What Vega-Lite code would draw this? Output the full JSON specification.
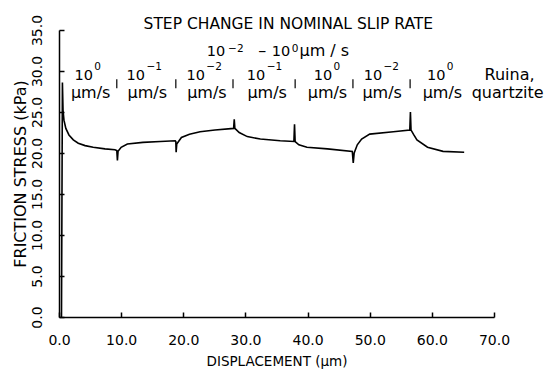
{
  "$schema": "https://vega.github.io/schema/vega-lite/v6.json",
  "autosize": "none",
  "width": 435,
  "height": 287,
  "padding": {"left": 59, "top": 30, "right": 51, "bottom": 56},
  "background": "white",
  "config": {
    "view": {"stroke": null},
    "font": "DejaVu Sans",
    "axis": {"grid": false, "domainColor": "black", "tickColor": "black", "labelColor": "black", "titleColor": "black", "domainWidth": 1.5, "tickWidth": 1.5, "labelFont": "DejaVu Sans", "titleFont": "DejaVu Sans", "titleFontWeight": "normal"}
  },
  "datasets": {
    "curve": [
      {"d": 0.4, "s": 0}, {"d": 0.55, "s": 28.6}, {"d": 0.65, "s": 25.2}, {"d": 0.8, "s": 24.0}, {"d": 1.1, "s": 23.0}, {"d": 1.6, "s": 22.2}, {"d": 2.3, "s": 21.6}, {"d": 3.1, "s": 21.2}, {"d": 4.2, "s": 20.9}, {"d": 5.5, "s": 20.7}, {"d": 7.4, "s": 20.5}, {"d": 9.0, "s": 20.4}, {"d": 9.3, "s": 20.3}, {"d": 9.4, "s": 19.1}, {"d": 9.5, "s": 20.2}, {"d": 10.0, "s": 20.7}, {"d": 11.0, "s": 21.1}, {"d": 13.5, "s": 21.3}, {"d": 16.3, "s": 21.4}, {"d": 18.7, "s": 21.5}, {"d": 18.8, "s": 21.4}, {"d": 18.85, "s": 20.1}, {"d": 18.95, "s": 21.1}, {"d": 19.7, "s": 21.9}, {"d": 21.0, "s": 22.3}, {"d": 22.7, "s": 22.6}, {"d": 25.1, "s": 22.8}, {"d": 28.1, "s": 23.0}, {"d": 28.2, "s": 24.1}, {"d": 28.3, "s": 23.0}, {"d": 29.0, "s": 22.5}, {"d": 30.3, "s": 22.0}, {"d": 32.4, "s": 21.7}, {"d": 35.6, "s": 21.5}, {"d": 37.8, "s": 21.4}, {"d": 37.9, "s": 23.5}, {"d": 38.0, "s": 21.4}, {"d": 38.6, "s": 21.0}, {"d": 39.9, "s": 20.7}, {"d": 43.2, "s": 20.5}, {"d": 47.2, "s": 20.2}, {"d": 47.35, "s": 18.8}, {"d": 47.5, "s": 20.0}, {"d": 48.0, "s": 21.0}, {"d": 48.7, "s": 21.7}, {"d": 50.0, "s": 22.3}, {"d": 53.8, "s": 22.6}, {"d": 56.45, "s": 22.8}, {"d": 56.55, "s": 25.0}, {"d": 56.65, "s": 22.8}, {"d": 57.1, "s": 22.2}, {"d": 57.6, "s": 21.6}, {"d": 59.3, "s": 20.7}, {"d": 61.8, "s": 20.2}, {"d": 65.2, "s": 20.1}
    ],
    "title": [
      {"d": 36.9, "s": 35.1, "t": "STEP CHANGE IN NOMINAL SLIP RATE"}
    ],
    "tens": [
      {"d": 26.73, "s": 31.8, "t": "10"},
      {"d": 37.2, "s": 31.8, "t": "10"},
      {"d": 5.47, "s": 28.85, "t": "10"},
      {"d": 13.85, "s": 28.85, "t": "10"},
      {"d": 23.5, "s": 28.85, "t": "10"},
      {"d": 33.2, "s": 28.85, "t": "10"},
      {"d": 43.96, "s": 28.85, "t": "10"},
      {"d": 52.0, "s": 28.85, "t": "10"},
      {"d": 62.2, "s": 28.85, "t": "10"}
    ],
    "sups": [
      {"d": 27.05, "s": 32.35, "t": "−2"},
      {"d": 37.3, "s": 32.35, "t": "0"},
      {"d": 5.5, "s": 30.15, "t": "0"},
      {"d": 13.9, "s": 30.15, "t": "−1"},
      {"d": 23.55, "s": 30.15, "t": "−2"},
      {"d": 33.25, "s": 30.15, "t": "−1"},
      {"d": 44.0, "s": 30.15, "t": "0"},
      {"d": 52.05, "s": 30.15, "t": "−2"},
      {"d": 62.25, "s": 30.15, "t": "0"}
    ],
    "words": [
      {"d": 32.7, "s": 31.8, "t": "–"},
      {"d": 42.7, "s": 31.8, "t": "μm / s"},
      {"d": 5.1, "s": 26.7, "t": "μm/s"},
      {"d": 14.2, "s": 26.7, "t": "μm/s"},
      {"d": 23.8, "s": 26.7, "t": "μm/s"},
      {"d": 33.5, "s": 26.7, "t": "μm/s"},
      {"d": 43.2, "s": 26.7, "t": "μm/s"},
      {"d": 52.0, "s": 26.7, "t": "μm/s"},
      {"d": 61.7, "s": 26.7, "t": "μm/s"},
      {"d": 72.5, "s": 28.85, "t": "Ruina,"},
      {"d": 72.2, "s": 26.7, "t": "quartzite"}
    ],
    "seps": [
      {"d": 9.3, "s": 27.9, "s2": 29.0},
      {"d": 18.8, "s": 27.9, "s2": 29.0},
      {"d": 28.0, "s": 27.9, "s2": 29.0},
      {"d": 38.0, "s": 27.9, "s2": 29.0},
      {"d": 47.3, "s": 27.9, "s2": 29.0},
      {"d": 56.5, "s": 27.9, "s2": 29.0}
    ]
  },
  "layer": [
    {
      "data": {"name": "curve"},
      "mark": {"type": "line", "color": "black", "strokeWidth": 1.6, "clip": false},
      "encoding": {
        "x": {"field": "d", "type": "quantitative", "scale": {"domain": [0, 70], "nice": false, "zero": false},
          "axis": {"title": "DISPLACEMENT (μm)", "values": [0, 10, 20, 30, 40, 50, 60, 70], "format": ".1f", "tickSize": -5, "labelPadding": 21, "labelFontSize": 14, "titleFontSize": 13.5, "titlePadding": 7, "labelFlush": false}},
        "y": {"field": "s", "type": "quantitative", "scale": {"domain": [0, 35], "nice": false, "zero": false},
          "axis": {"title": "FRICTION STRESS  (kPa)", "values": [0, 5, 10, 15, 20, 25, 30, 35], "format": ".1f", "tickSize": -5, "labelAngle": -90, "labelAlign": "center", "labelBaseline": "bottom", "labelPadding": 20, "labelFontSize": 14, "titleFontSize": 16, "titlePadding": 2, "labelFlush": false}}
      }
    },
    {
      "data": {"name": "title"},
      "mark": {"type": "text", "fontSize": 15.5, "color": "black", "baseline": "alphabetic", "align": "center"},
      "encoding": {
        "x": {"field": "d", "type": "quantitative"},
        "y": {"field": "s", "type": "quantitative"},
        "text": {"field": "t"}
      }
    },
    {
      "data": {"name": "tens"},
      "mark": {"type": "text", "fontSize": 14.5, "color": "black", "baseline": "alphabetic", "align": "right"},
      "encoding": {
        "x": {"field": "d", "type": "quantitative"},
        "y": {"field": "s", "type": "quantitative"},
        "text": {"field": "t"}
      }
    },
    {
      "data": {"name": "sups"},
      "mark": {"type": "text", "fontSize": 10.5, "color": "black", "baseline": "alphabetic", "align": "left", "dx": 1},
      "encoding": {
        "x": {"field": "d", "type": "quantitative"},
        "y": {"field": "s", "type": "quantitative"},
        "text": {"field": "t"}
      }
    },
    {
      "data": {"name": "words"},
      "mark": {"type": "text", "fontSize": 16, "color": "black", "baseline": "alphabetic", "align": "center"},
      "encoding": {
        "x": {"field": "d", "type": "quantitative"},
        "y": {"field": "s", "type": "quantitative"},
        "text": {"field": "t"}
      }
    },
    {
      "data": {"name": "seps"},
      "mark": {"type": "rule", "color": "black", "strokeWidth": 1.2},
      "encoding": {
        "x": {"field": "d", "type": "quantitative"},
        "y": {"field": "s", "type": "quantitative"},
        "y2": {"field": "s2"}
      }
    }
  ]
}
